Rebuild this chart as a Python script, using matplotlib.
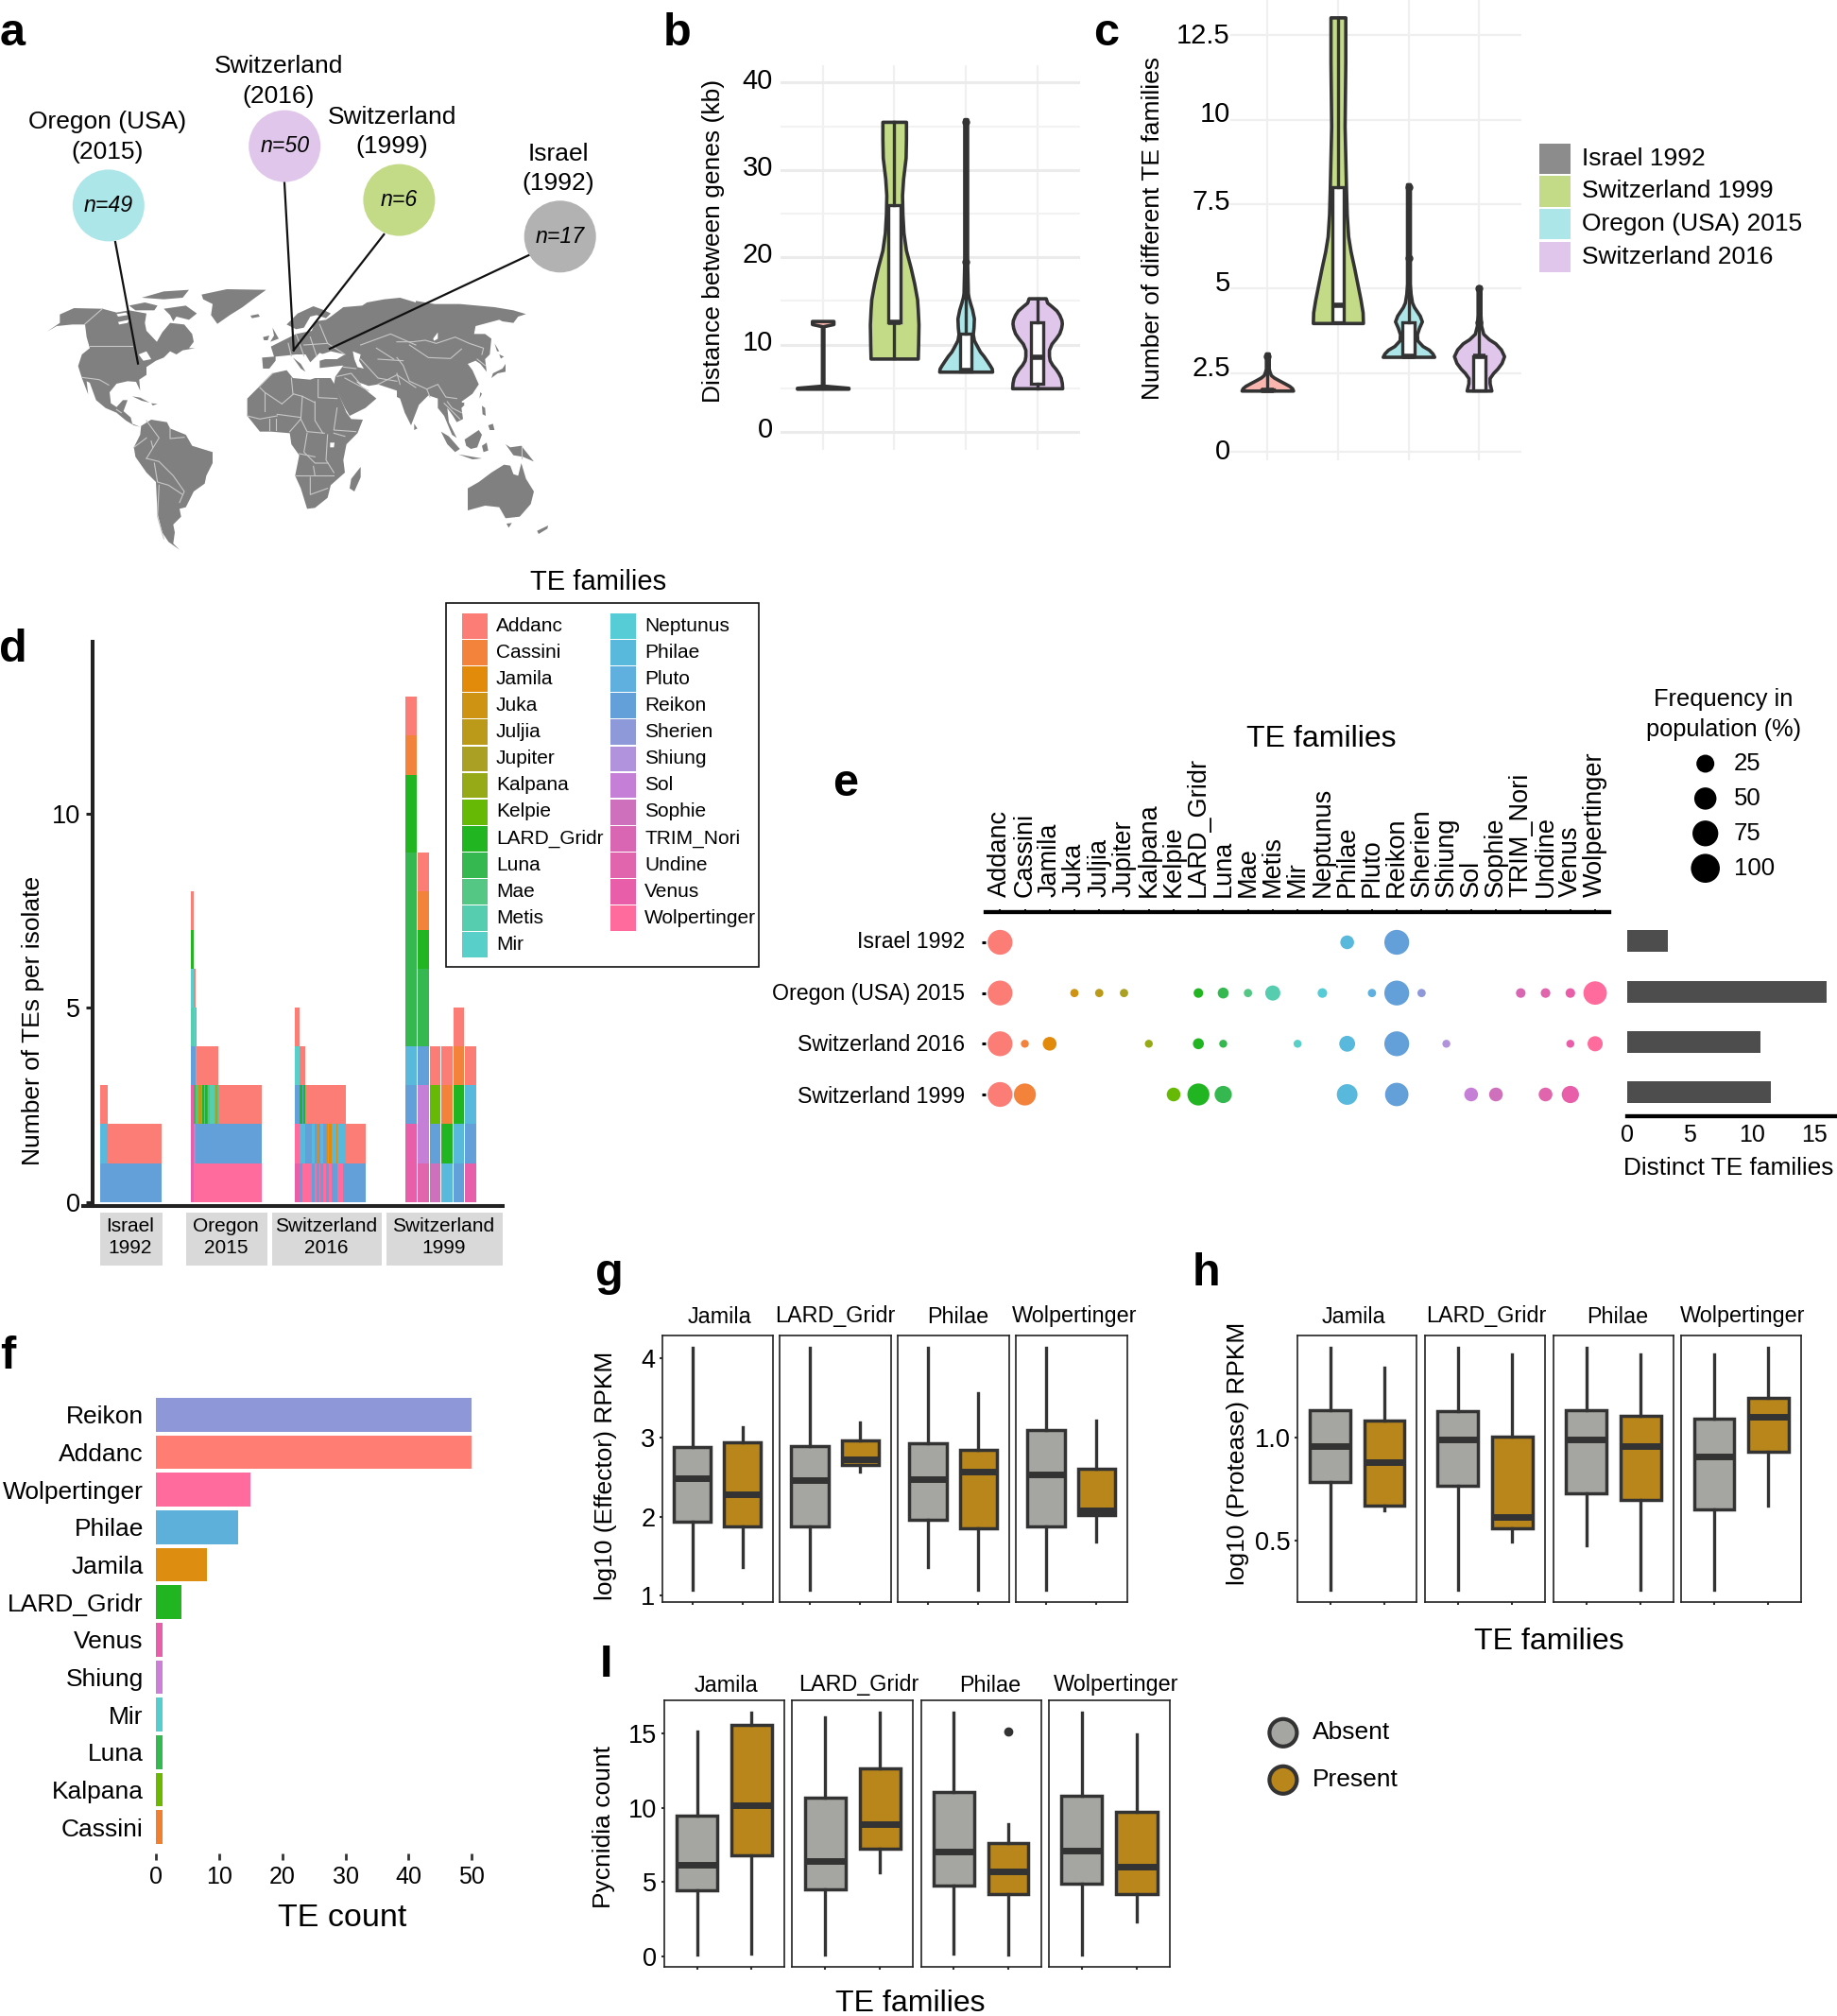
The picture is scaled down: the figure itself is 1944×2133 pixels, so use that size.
# coding=utf-8
import numpy as np
import matplotlib
matplotlib.use('Agg')
import matplotlib.pyplot as plt
from matplotlib.patches import Rectangle, Circle, Polygon
from matplotlib.transforms import ScaledTranslation

plt.rcParams['font.family'] = ['Liberation Sans', 'DejaVu Sans']

W, H = 1944, 2133

# ---- colours ----
families = ['Addanc', 'Cassini', 'Jamila', 'Juka', 'Juljia', 'Jupiter', 'Kalpana', 'Kelpie',
            'LARD_Gridr', 'Luna', 'Mae', 'Metis', 'Mir', 'Neptunus', 'Philae', 'Pluto', 'Reikon',
            'Sherien', 'Shiung', 'Sol', 'Sophie', 'TRIM_Nori', 'Undine', 'Venus', 'Wolpertinger']
family_colors = ['#FB7D75', '#F3823B', '#E28A0A', '#CF9314', '#BC9A19', '#A9A024', '#96AA17', '#66BA06',
                 '#22B522', '#35B84F', '#55C785', '#55CDAE', '#58CFC8', '#55CCD6', '#58B9DC', '#5FB0DE',
                 '#639FD8', '#8E99DA', '#B192DC', '#C67FD6', '#CF70BD', '#D966B3', '#E065AC', '#E85EA8',
                 '#FF6B9C']
fam_col = dict(zip(families, family_colors))
dark = '#333333'
absent_col = '#A5A5A1'
present_col = '#B8861B'

# ---- a: map outlines, one group per crop ----
# west part, origin (40, 300), 3 units per pixel
north_america = [(30,152),(70,125),(70,98),(115,78),(205,80),(250,92),(290,85),(345,95),(340,125),(345,150),
                 (378,185),(395,155),(420,125),(465,130),(490,160),(495,185),(480,205),(500,205),(460,212),
                 (440,225),(420,215),(400,235),(375,245),(345,265),(345,290),(322,305),(325,340),(312,312),
                 (285,310),(250,318),(228,345),(232,380),(250,392),(270,370),(285,370),(272,405),(295,425),
                 (300,445),(325,455),(305,450),(280,435),(250,410),(215,395),(185,370),(165,315),(155,310),
                 (160,352),(140,300),(128,262),(140,225),(165,205),(155,170),(150,130),(110,130),(60,135)]
baffin = [(400,80),(470,70),(505,95),(480,115),(440,105),(430,120),(420,100)]
ellesmere = [(330,45),(400,25),(480,20),(460,45),(400,50)]
victoria = [(290,70),(340,60),(380,70),(370,85),(310,85)]
greenland = [(520,35),(600,18),(725,20),(690,45),(650,75),(610,100),(570,128),(550,100),(555,65),(525,50)]
iceland = [(675,102),(700,97),(705,105),(680,110)]
cuba = [(300,358),(325,362),(355,378),(330,372)]
hispaniola = [(360,380),(380,382),(365,387)]
south_america = [(328,452),(360,432),(410,440),(420,460),(470,480),(490,515),(555,535),(555,570),(535,610),
                 (530,635),(495,660),(470,710),(450,715),(455,740),(430,765),(435,790),(430,825),(450,845),
                 (415,820),(395,790),(380,730),(375,630),(345,600),(310,550),(305,520),(325,480)]
west_land = [north_america, baffin, ellesmere, victoria, greenland, iceland, cuba, hispaniola, south_america]
west_water = [[(250,97),(280,92),(285,100),(255,105)], [(255,122),(290,115),(285,125),(258,130)],
              [(320,225),(345,215),(360,240),(335,245)]]
west_borders = [[(165,197),(300,197)], [(150,128),(205,80)], [(140,298),(195,305),(225,322)], [(250,400),(265,410)],
                [(345,435),(385,490),(345,555)], [(345,490),(305,520)], [(420,460),(420,492),(465,488)],
                [(345,555),(385,565),(430,610),(465,660),(450,695)], [(370,570),(380,630),(415,640),(460,670)],
                [(385,640),(380,740),(400,810)], [(360,500),(365,520)]]

# middle part, origin (250, 300)
africa = [(35,365),(75,325),(115,285),(160,275),(180,300),(235,305),(250,300),(300,300),(315,325),(350,410),
          (365,430),(402,432),(385,475),(350,510),(340,560),(345,600),(300,640),(290,680),(250,712),(225,715),
          (205,650),(187,610),(200,545),(175,510),(170,475),(110,470),(75,470),(35,420)]
madagascar = [(395,582),(395,615),(375,660),(360,650),(365,620)]
uk = [(115,140),(135,175),(108,185),(120,165)]
ireland = [(85,170),(105,165),(100,180),(88,180)]
scandinavia = [(160,130),(170,120),(195,95),(245,72),(280,85),(300,95),(285,110),(255,100),(235,105),(215,140),
               (190,145),(170,135)]
italy = [(180,235),(205,255),(220,280),(205,270)]
eurasia_mid_a = [(85,270),(82,235),(120,232),(110,200),(150,180),(190,160),(240,150),(250,120),(285,115),(300,105),
                 (340,75),(400,70),(415,60),(470,50),(520,45),(570,60)]
eurasia_mid_b = [(510,340),(450,320),(420,325),(380,310),(420,345),(445,365),(410,395),(360,420),(345,395),(310,320),
                 (315,295),(340,260),(265,268),(265,245),(300,235),(265,220),(235,250),(220,225),(190,225),(165,228),
                 (125,232),(125,245),(105,270)]
mid_land = [africa, madagascar, uk, ireland, scandinavia, italy]
mid_water = [[(370,215),(395,225),(390,245),(405,270),(385,265),(375,240)],
             [(270,225),(300,215),(345,225),(320,240),(270,240)],
             [(298,505),(312,505),(310,520),(298,520)]]
mid_borders = [[(75,330),(90,345),(145,382)], [(90,345),(90,405)], [(115,285),(75,325)],
               [(175,300),(180,350),(210,358),(250,378)], [(145,382),(180,352)], [(260,305),(260,362),(320,365)],
               [(250,375),(250,435),(275,475)], [(210,358),(205,430),(170,470)], [(130,415),(205,425)],
               [(35,420),(75,430),(130,420)], [(105,430),(105,465)], [(125,430),(125,465)],
               [(205,430),(225,470),(280,475)], [(225,475),(215,535),(250,570),(290,570)], [(310,475),(345,485)],
               [(320,395),(310,465),(380,470)], [(290,480),(285,560),(310,600)], [(190,610),(310,610)],
               [(235,615),(235,670),(290,650)], [(245,580),(250,610)], [(200,540),(250,550)],
               [(165,190),(175,230)], [(190,160),(215,230)], [(235,170),(255,230)], [(215,195),(290,190)],
               [(265,130),(290,190),(345,225)], [(320,295),(365,285),(395,320)], [(340,265),(380,270)],
               [(345,300),(420,340)], [(395,240),(450,300),(510,310)], [(450,240),(530,245)],
               [(450,320),(510,290),(570,330)], [(395,195),(490,160),(570,195)], [(445,205),(500,240)]]

# east part, origin (420, 300)
eurasia_east = [(60,55),(120,65),(200,65),(310,75),(370,85),(410,97),(385,105),(370,125),(335,120),(325,115),(250,135),
                (245,160),(280,160),(300,175),(295,225),(280,240),(285,280),(265,255),(250,245),(225,255),(240,275),
                (260,320),(240,350),(205,375),(215,385),(205,395),(210,430),(190,440),(178,420),(160,395),(165,440),
                (190,490),(175,480),(150,420),(130,395),(130,365),(100,355),(70,385),(45,450),(25,410),(10,365),(0,360)]
japan = [(345,255),(345,280),(320,285),(300,300),(305,285),(335,270)]
hokkaido = [(325,225),(340,232),(330,238)]
sakhalin = [(310,190),(325,215),(318,215)]
taiwan = [(265,345),(270,350),(262,365)]
hainan = [(205,378),(215,378),(210,386)]
sri_lanka = [(55,445),(65,460),(55,465)]
sumatra = [(140,470),(165,485),(200,525),(185,535),(160,510)]
borneo = [(215,495),(260,465),(270,480),(255,520),(235,525),(220,515)]
java = [(195,542),(240,550),(270,555),(240,558)]
celebes = [(270,515),(285,505),(290,530),(275,535)]
guinea = [(360,520),(395,515),(435,565),(400,550),(370,545),(345,510)]
luzon = [(270,388),(280,395),(282,420),(272,415)]
mindanao = [(290,450),(305,445),(310,465),(295,465)]
australia = [(225,650),(260,630),(300,600),(340,575),(360,578),(370,605),(385,610),(395,570),(410,620),(435,660),
             (425,700),(390,740),(345,745),(325,710),(280,705),(225,720)]
tasmania = [(348,762),(365,760),(355,775)]
new_zealand = [(445,785),(480,768),(478,778),(450,795)]
east_land = [japan, hokkaido, sakhalin, taiwan, hainan, sri_lanka, sumatra, borneo, java, celebes, guinea, luzon,
             mindanao, australia, tasmania, new_zealand]
east_water = [[(115,175),(130,155),(130,175),(118,182)]]
east_borders = [[(0,185),(50,185),(90,180),(125,190),(185,170),(230,190),(275,205),(270,225)],
                [(40,195),(100,235),(170,238),(205,208)],
                [(0,235),(20,260),(40,310),(95,335),(130,320),(155,360),(190,365)],
                [(0,285),(10,320)], [(95,335),(105,360)], [(150,380),(200,430)], [(160,375),(175,395),(205,410)],
                [(255,240),(280,260)], [(395,515),(395,555)]]

bubble_x = [114.8, 301.2, 422.4, 592.7]
bubble_y = [217.4, 154.6, 211.6, 250.3]
bubble_col = ['#ADE6E8', '#E0C6EA', '#C3DA87', '#B2B2B2']
bubble_n = ['n=49', 'n=50', 'n=6', 'n=17']
bubble_l1 = ['Oregon (USA)', 'Switzerland', 'Switzerland', 'Israel']
bubble_l2 = ['(2015)', '(2016)', '(1999)', '(1992)']
bubble_lx = [113.9, 294.8, 415, 591]
bubble_ly1 = [129, 70, 124, 163]
bubble_ly2 = [161, 102, 155, 194]
pointer_from = [(122,256), (301,193), (406.3,248), (560,269.8)]
pointer_to = [(146,384.6), (310.8,370.5), (310.8,370.5), (349,369)]

# ---- b / c: violins, y value and half width ----
b_israel_y = [4.95, 5.05, 5.3, 12.1, 12.35, 12.7]
b_israel_w = [.36, .36, .01, .01, .15, .15]
b_sw99_y = [8.4, 10, 12.3, 14, 15.2, 17, 18.8, 20.8, 22.8, 25, 27.1, 29, 31.4, 33.5, 35.5]
b_sw99_w = [.33, .335, .34, .33, .32, .28, .23, .165, .13, .115, .11, .125, .16, .165, .165]
b_oregon_y = [6.9, 7.25, 7.6, 8.1, 8.7, 9.2, 9.8, 10.5, 11.2, 12, 13, 14, 14.8, 15.4, 15.9, 19.5, 24.2, 35.8]
b_oregon_w = [.37, .365, .34, .30, .25, .2, .16, .115, .1, .11, .115, .09, .06, .04, .03, .02, .02, .02]
b_sw16_y = [5, 5.6, 6.2, 6.7, 7.2, 7.7, 8.2, 8.7, 9.4, 10.1, 10.7, 11.3, 11.9, 12.4, 12.8, 13.4, 13.9, 14.4, 14.8, 15.3]
b_sw16_w = [.35, .345, .33, .30, .26, .21, .175, .165, .165, .2, .26, .31, .335, .345, .34, .31, .27, .2, .14, .12]
# whisker low, q1, median, q3, whisker high
b_sw99_box = [8.4, 12.5, 12.5, 26, 35.5]
b_oregon_box = [6.9, 6.9, 7.0, 11.3, 19.5]
b_sw16_box = [5, 5.5, 8.5, 12.6, 15.3]
b_oregon_out = [19.5, 35.5]

c_israel_y = [1.98, 2.05, 2.12, 2.2, 2.3, 2.37, 2.44, 2.55, 2.63, 3.08]
c_israel_w = [.365, .35, .31, .24, .15, .09, .05, .03, .02, .02]
c_sw99_y = [3.98, 4.3, 4.68, 5.1, 5.62, 6.1, 6.55, 7.2, 7.95, 9.81, 11.68, 13.03]
c_sw99_w = [.355, .35, .32, .28, .23, .18, .145, .125, .115, .095, .105, .105]
c_oregon_y = [2.98, 3.08, 3.19, 3.3, 3.47, 3.65, 3.84, 4.03, 4.2, 4.31, 4.45, 4.59, 4.85, 5.15, 8.09]
c_oregon_w = [.365, .34, .29, .2, .125, .12, .15, .19, .16, .125, .08, .05, .03, .02, .02]
c_sw16_y = [1.98, 2.2, 2.35, 2.5, 2.63, 2.8, 3, 3.2, 3.38, 3.5, 3.66, 3.9, 4.22, 5.06]
c_sw16_w = [.175, .15, .15, .2, .26, .32, .355, .31, .23, .14, .06, .03, .02, .02]
c_israel_box = [2, 2, 2, 2.02, 3]
c_sw99_box = [4, 4, 4.5, 8, 13]
c_oregon_box = [3, 3, 3, 4, 5.9]
c_sw16_box = [2, 2, 3, 3, 4]
c_israel_out = [3]
c_oregon_out = [5.9, 8]
c_sw16_out = [4, 5]

violin_col = ['#F9B5AE', '#C3DA87', '#ADE6E8', '#E0C6EA']
pop_legend = ['Israel 1992', 'Switzerland 1999', 'Oregon (USA) 2015', 'Switzerland 2016']
pop_legend_col = ['#8C8C8C', '#C3DA87', '#ADE6E8', '#E0C6EA']

# ---- d: isolates as (how many, families bottom to top) ----
W_, R_, A_, P_, J_ = 'Wolpertinger', 'Reikon', 'Addanc', 'Philae', 'Jamila'
d_israel = [(2, [R_, P_, A_]), (15, [R_, A_])]
d_oregon = [(2, ['Venus', 'Venus', 'Venus', R_, 'Metis', 'Mir', 'LARD_Gridr', A_]),
            (1, [W_, 'Sherien', 'Luna', R_, 'Mir', A_]),
            (1, [W_, R_, 'Mae', 'Mir', A_]),
            (1, [W_, R_, 'Mae', A_]), (1, [W_, R_, 'Juka', A_]), (1, [W_, R_, 'Juljia', A_]),
            (1, [W_, R_, 'Mae', A_]), (1, [W_, R_, 'LARD_Gridr', A_]), (1, [W_, R_, 'Mae', A_]),
            (1, [W_, R_, 'LARD_Gridr', A_]), (1, [W_, R_, 'Luna', A_]), (1, [W_, R_, 'Mae', A_]),
            (3, [W_, R_, 'Metis', A_]), (1, [W_, R_, 'Mae', A_]), (1, [W_, R_, 'Jupiter', A_]),
            (1, [W_, R_, 'Mae', A_]),
            (30, [W_, R_, A_])]
d_sw16 = [(3, ['Venus', W_, R_, 'Mir', A_]),
          (2, [R_, P_, 'LARD_Gridr', A_]), (1, [W_, P_, R_, A_]), (1, [W_, P_, 'LARD_Gridr', A_]),
          (5, [W_, R_, A_]), (2, [R_, P_, A_]), (1, [W_, R_, A_]), (2, [R_, J_, A_]), (1, [W_, R_, A_]),
          (2, [R_, P_, A_]), (2, [W_, R_, A_]), (1, [R_, J_, A_]), (1, [R_, P_, A_]), (2, [W_, J_, A_]),
          (3, [R_, P_, A_]), (1, [R_, J_, A_]), (4, [W_, P_, A_]), (2, [R_, P_, A_]),
          (14, [R_, A_])]
d_sw99 = [(1, ['Venus', 'Venus', R_, P_] + ['Luna'] * 5 + ['LARD_Gridr'] * 2 + ['Cassini', A_]),
          (1, ['Undine', 'Sol', 'Sol', R_, 'Luna', 'Luna', 'LARD_Gridr', 'Cassini', A_]),
          (1, ['Sophie', R_, 'Kelpie', A_]),
          (1, [P_, 'LARD_Gridr', 'Cassini', A_]),
          (1, [R_, P_, 'LARD_Gridr', 'Cassini', A_]),
          (1, ['Venus', R_, P_, A_])]
d_facets = [d_israel, d_oregon, d_sw16, d_sw99]
d_start = [106, 202, 312, 429.3]
d_end = [171.4, 277.3, 387.3, 505]
d_strip_x0 = [106, 196.6, 288, 408.5]
d_strip_x1 = [171.6, 283, 404, 532]
d_strip_txt = ['Israel\n1992', 'Oregon\n2015', 'Switzerland\n2016', 'Switzerland\n1999']

# ---- e: frequency in population (%) ----
e_rows = ['Israel 1992', 'Oregon (USA) 2015', 'Switzerland 2016', 'Switzerland 1999']
e_israel = {'Addanc': 98, 'Philae': 23, 'Reikon': 98}
e_oregon = {'Addanc': 98, 'Juka': 2, 'Juljia': 2, 'Jupiter': 2, 'LARD_Gridr': 6, 'Luna': 11, 'Mae': 2,
            'Metis': 30, 'Neptunus': 6, 'Pluto': 2, 'Reikon': 98, 'Sherien': 2, 'TRIM_Nori': 6, 'Undine': 6,
            'Venus': 6, 'Wolpertinger': 86}
e_sw16 = {'Addanc': 98, 'Cassini': 1, 'Jamila': 23, 'Kalpana': 1, 'LARD_Gridr': 11, 'Luna': 1, 'Mir': 1,
          'Philae': 34, 'Reikon': 98, 'Shiung': 1, 'Venus': 1, 'Wolpertinger': 30}
e_sw99 = {'Addanc': 98, 'Cassini': 75, 'Kelpie': 23, 'LARD_Gridr': 75, 'Luna': 42, 'Philae': 65, 'Reikon': 86,
          'Sol': 23, 'Sophie': 23, 'Undine': 23, 'Venus': 42}
e_distinct = [3.3, 16, 10.7, 11.5]
size_levels = [25, 50, 75, 100]

# ---- f ----
f_names = ['Reikon', 'Addanc', 'Wolpertinger', 'Philae', 'Jamila', 'LARD_Gridr', 'Venus', 'Shiung', 'Mir',
           'Luna', 'Kalpana', 'Cassini']
f_counts = [50, 50, 15, 13, 8, 4, 1, 1, 1, 1, 1, 1]
f_colors = ['#8E97D8', '#FF7D73', '#FF6B9C', '#5CB0DA', '#DD8D10', '#22B522', '#E85EA8', '#CC7FD6', '#55CDCD',
            '#35B84F', '#6CB800', '#F08030']

# ---- g / h / i: [absent, present], each whisker low, q1, median, q3, whisker high ----
facet_names = ['Jamila', 'LARD_Gridr', 'Philae', 'Wolpertinger']
g_jamila = [[1.07, 1.94, 2.49, 2.88, 4.14], [1.36, 1.88, 2.28, 2.94, 3.13]]
g_lard = [[1.07, 1.88, 2.46, 2.89, 4.14], [2.57, 2.65, 2.73, 2.96, 3.19]]
g_philae = [[1.36, 1.96, 2.47, 2.93, 4.14], [1.07, 1.85, 2.57, 2.84, 3.56]]
g_wolp = [[1.07, 1.88, 2.53, 3.09, 4.14], [1.68, 2.02, 2.08, 2.61, 3.21]]
h_jamila = [[.262, .784, .959, 1.131, 1.436], [.646, .669, .883, 1.081, 1.337]]
h_lard = [[.262, .765, .989, 1.128, 1.436], [.498, .559, .616, 1.005, 1.401]]
h_philae = [[.479, .730, .989, 1.131, 1.436], [.262, .700, .959, 1.104, 1.401]]
h_wolp = [[.262, .654, .909, 1.093, 1.401], [.669, .931, 1.101, 1.192, 1.436]]
i_jamila = [[.1, 4.45, 6.14, 9.49, 15.1], [.2, 6.82, 10.15, 15.57, 16.38]]
i_lard = [[.1, 4.49, 6.4, 10.7, 16.1], [5.68, 7.25, 8.9, 12.67, 16.38]]
i_philae = [[.2, 4.77, 7.03, 11.08, 16.38], [.1, 4.19, 5.7, 7.63, 8.9]]
i_wolp = [[.1, 4.87, 7.1, 10.8, 16.38], [2.33, 4.19, 6.02, 9.7, 14.9]]
i_philae_out = [15.1]


def px_axes(x0, y0, x1, y1):
    # axes given in pixels of the figure, y going down
    return fig.add_axes([x0 / W, 1 - y1 / H, (x1 - x0) / W, (y1 - y0) / H])


def stat(v, fliers=()):
    return dict(whislo=v[0], q1=v[1], med=v[2], q3=v[3], whishi=v[4], fliers=list(fliers))


def shift_labels(ax, offsets):
    # tick labels sit a little above their gridline in the picture
    for lab, off in zip(ax.get_yticklabels(), offsets):
        lab.set_transform(lab.get_transform() + ScaledTranslation(0, off / 72, fig.dpi_scale_trans))


def crop_pts(poly, ox, oy):
    return [(ox + x / 3, oy + y / 3) for x, y in poly]


def violin(ax, pos, y, w, col, box=None, out=()):
    y = np.array(y)
    w = np.array(w)
    ax.fill_betweenx(y, pos - w, pos + w, facecolor=col, edgecolor=dark, linewidth=2.6, joinstyle='round', zorder=2)
    if box is not None:
        ax.bxp([stat(box, out)], positions=[pos], widths=.17, patch_artist=True, showcaps=False,
               manage_ticks=False, zorder=3,
               boxprops=dict(facecolor='white', edgecolor=dark, linewidth=2.4),
               medianprops=dict(color=dark, linewidth=4, solid_capstyle='butt'),
               whiskerprops=dict(color=dark, linewidth=2.4),
               flierprops=dict(marker='o', markerfacecolor=dark, markeredgecolor=dark, markersize=5))


def facet_boxes(ax, boxes, fliers=()):
    for k, (v, col) in enumerate(zip(boxes, [absent_col, present_col])):
        ax.bxp([stat(v, fliers if k == 1 else ())], positions=[k + 1], widths=.74, patch_artist=True,
               showcaps=False, manage_ticks=False,
               boxprops=dict(facecolor=col, edgecolor=dark, linewidth=2.5),
               medianprops=dict(color=dark, linewidth=5, solid_capstyle='butt'),
               whiskerprops=dict(color=dark, linewidth=2.4),
               flierprops=dict(marker='o', markerfacecolor=dark, markeredgecolor=dark, markersize=6))
    ax.set_xlim(.4, 2.6)
    ax.set_xticks([1, 2])
    ax.set_xticklabels([])
    ax.tick_params(axis='x', length=2.5, width=1.5, color=dark)
    for s in ax.spines.values():
        s.set_linewidth(1.2)
        s.set_color('#222222')


fig = plt.figure(figsize=(W / 100, H / 100), dpi=100, facecolor='white')

# overlay in figure pixels for the free text and hand placed legends
ov = fig.add_axes([0, 0, 1, 1], zorder=10)
ov.set_xlim(0, W)
ov.set_ylim(H, 0)
ov.axis('off')
ov.patch.set_alpha(0)

letters = ['a', 'b', 'c', 'd', 'e', 'f', 'g', 'h', 'I']
letter_x = [13, 717, 1171, 14, 895, 8, 645, 1276, 641]
letter_y = [35, 35, 35, 688, 829, 1435, 1347, 1347, 1762]
for t, x, y in zip(letters, letter_x, letter_y):
    ov.text(x, y, t, fontsize=35, fontweight='bold', ha='center', va='center')

# ---- a ----
ax = px_axes(0, 0, 720, 600)
ax.set_xlim(0, 720)
ax.set_ylim(600, 0)
ax.axis('off')
eurasia = (crop_pts(eurasia_mid_a, 250, 300) + crop_pts(eurasia_east, 420, 300) + crop_pts(eurasia_mid_b, 250, 300))
ax.add_patch(Polygon(eurasia, closed=True, facecolor='#808080', edgecolor='none', zorder=1))
for group, water, lines, ox in [(west_land, west_water, west_borders, 40),
                                (mid_land, mid_water, mid_borders, 250),
                                (east_land, east_water, east_borders, 420)]:
    for poly in group:
        ax.add_patch(Polygon(crop_pts(poly, ox, 300), closed=True, facecolor='#808080', edgecolor='none', zorder=1))
    for poly in water:
        ax.add_patch(Polygon(crop_pts(poly, ox, 300), closed=True, facecolor='white', edgecolor='none', zorder=2))
    for line in lines:
        ax.plot(*zip(*crop_pts(line, ox, 300)), color='#C8C8C8', linewidth=.8, zorder=2)
for p, q in zip(pointer_from, pointer_to):
    ax.plot([p[0], q[0]], [p[1], q[1]], color='#111111', linewidth=1.6, zorder=3)
for k in range(4):
    ov.add_patch(Circle((bubble_x[k], bubble_y[k]), 38, facecolor=bubble_col[k], edgecolor='none'))
    ov.text(bubble_x[k], bubble_y[k], bubble_n[k], fontsize=16.7, fontstyle='italic', ha='center', va='center')
    ov.text(bubble_lx[k], bubble_ly1[k], bubble_l1[k], fontsize=19, ha='center', va='center')
    ov.text(bubble_lx[k], bubble_ly2[k], bubble_l2[k], fontsize=19, ha='center', va='center')

# ---- b ----
ax = px_axes(826, 69, 1143, 475.7)
ax.set_xlim(.41, 4.6)
ax.set_ylim(-2.02, 41.98)
ax.set_xticks([1, 2, 3, 4])
ax.set_xticklabels([])
ax.set_yticks([0, 10, 20, 30, 40])
ax.set_yticks([5, 15, 25, 35], minor=True)
ax.tick_params(which='both', length=0)
ax.tick_params(axis='y', labelsize=21, pad=5.8)
ax.grid(True, which='major', axis='y', color='#EBEBEB', linewidth=2.2)
ax.grid(True, which='minor', axis='y', color='#F2F2F2', linewidth=1.5)
ax.grid(True, which='major', axis='x', color='#F0F0F0', linewidth=1.6)
ax.set_axisbelow(True)
for s in ax.spines.values():
    s.set_visible(False)
violin(ax, 1, b_israel_y, b_israel_w, violin_col[0])
violin(ax, 2, b_sw99_y, b_sw99_w, violin_col[1], b_sw99_box)
violin(ax, 3, b_oregon_y, b_oregon_w, violin_col[2], b_oregon_box, b_oregon_out)
violin(ax, 4, b_sw16_y, b_sw16_w, violin_col[3], b_sw16_box)
shift_labels(ax, [3.4] * 5)
ov.text(755, 255, 'Distance between genes (kb)', fontsize=19, rotation=90, ha='center', va='center')

# ---- c ----
ax = px_axes(1301.6, 0, 1610, 486.7)
ax.set_xlim(.47, 4.6)
ax.set_ylim(-.075, 13.545)
ax.set_xticks([1, 2, 3, 4])
ax.set_xticklabels([])
ax.set_yticks([.18, 2.5, 5, 7.5, 10, 12.5])
ax.set_yticklabels(['0', '2.5', '5', '7.5', '10', '12.5'])
ax.tick_params(length=0)
ax.tick_params(axis='y', labelsize=21, pad=0)
ax.grid(True, axis='y', color='#EFEFEF', linewidth=1.6)
ax.grid(True, axis='x', color='#F0F0F0', linewidth=1.6)
ax.set_axisbelow(True)
for s in ax.spines.values():
    s.set_visible(False)
violin(ax, 1, c_israel_y, c_israel_w, violin_col[0], c_israel_box, c_israel_out)
violin(ax, 2, c_sw99_y, c_sw99_w, violin_col[1], c_sw99_box)
violin(ax, 3, c_oregon_y, c_oregon_w, violin_col[2], c_oregon_box, c_oregon_out)
violin(ax, 4, c_sw16_y, c_sw16_w, violin_col[3], c_sw16_box, c_sw16_out)
shift_labels(ax, [1.9, 5.8, 6, 3.8, 6, 1.7])
ov.text(1219.6, 241.7, 'Number of different TE families', fontsize=19, rotation=90, ha='center', va='center')

for k in range(4):
    ov.add_patch(Rectangle((1629, 151.7 + k * 34.6), 33, 32.3, facecolor=pop_legend_col[k], edgecolor='none'))
    ov.text(1674, 167.8 + k * 34.6, pop_legend[k], fontsize=19, ha='left', va='center')

# ---- d ----
ax = px_axes(88, 679, 532, 1276)
ax.set_xlim(88, 532)
ax.set_ylim(-.107, 14.42)
for facet, x0, x1 in zip(d_facets, d_start, d_end):
    n = sum(run[0] for run in facet)
    unit = (x1 - x0) / n
    gap = .9 if unit > 5 else 0
    x = x0
    for count, stack in facet:
        for level, fam in enumerate(stack):
            ax.bar(x, 1, width=count * unit - gap, bottom=level, align='edge', color=fam_col[fam], linewidth=0)
        x += count * unit
ax.set_xticks([])
ax.set_yticks([0, 5, 10])
ax.tick_params(axis='y', labelsize=19.5, length=5, width=2.2, pad=4.5, color='#222222')
ax.spines['top'].set_visible(False)
ax.spines['right'].set_visible(False)
ax.spines['left'].set_position(('data', 98))
ax.spines['left'].set_linewidth(2.9)
ax.spines['left'].set_color('#222222')
ax.spines['bottom'].set_linewidth(2.9)
ax.spines['bottom'].set_color('#222222')
ov.text(35, 1080, 'Number of TEs per isolate', fontsize=19, rotation=90, ha='center', va='center')
for x0, x1, t in zip(d_strip_x0, d_strip_x1, d_strip_txt):
    ov.add_patch(Rectangle((x0, 1283), x1 - x0, 55.5, facecolor='#D9D9D9', edgecolor='none'))
    ov.text((x0 + x1) / 2 - 1, 1309, t, fontsize=15, ha='center', va='center', linespacing=1.3)

# family legend of d
ov.text(632.6, 616, 'TE families', fontsize=21, ha='center', va='center')
ov.add_patch(Rectangle((472, 638), 331, 384.5, facecolor='none', edgecolor='#111111', linewidth=1.2))
for k, fam in enumerate(families):
    col, row = (0, k) if k < 13 else (1, k - 13)
    ov.add_patch(Rectangle((489 + col * 157, 649 + row * 28.1), 26.5, 26.8, facecolor=fam_col[fam], edgecolor='none'))
    ov.text(525 + col * 157, 662.3 + row * 28.1, fam, fontsize=15, ha='left', va='center')

# ---- e dots ----
ax = px_axes(1043, 965, 1703, 1180)
ax.set_xlim(-.583, 24.57)
ax.set_ylim(3.41, -.596)
for r, row in enumerate([e_israel, e_oregon, e_sw16, e_sw99]):
    xs = [families.index(k) for k in row]
    freq = np.array(list(row.values()), dtype=float)
    cols = [fam_col[k] for k in row]
    ax.scatter(xs, [r] * len(xs), s=(.72 / 1.3706) ** 2 * (121 + 12 * freq), c=cols, linewidths=0, clip_on=False)
ax.xaxis.tick_top()
ax.set_xticks(range(len(families)))
ax.set_xticklabels(families, rotation=90, fontsize=19.5)
ax.set_yticks(range(4))
ax.set_yticklabels(e_rows, fontsize=16.7)
ax.tick_params(axis='x', length=2.5, width=1.4, pad=9, color='black')
ax.tick_params(axis='y', length=2.9, width=2.2, pad=12.6, color='black')
for k in ['left', 'right', 'bottom']:
    ax.spines[k].set_visible(False)
ax.spines['top'].set_linewidth(3.1)
shift_labels(ax, [2.2, 1.4, .7, 0])
ov.text(1398, 782, 'TE families', fontsize=23, ha='center', va='center')

# ---- e bars ----
ax = px_axes(1721.5, 965, 1944, 1180.7)
ax.set_xlim(0, 16.82)
ax.set_ylim(3.465, -.58)
ax.barh(range(4), e_distinct, height=.43, color='#4D4D4D', linewidth=0)
ax.set_xticks([0, 5, 10, 15])
ax.set_yticks([])
ax.tick_params(axis='x', labelsize=18, length=0, pad=6)
for k in ['left', 'right', 'top']:
    ax.spines[k].set_visible(False)
ax.spines['bottom'].set_linewidth(3.1)
ov.text(1829, 1236, 'Distinct TE families', fontsize=18.9, ha='center', va='center')

# size legend of e
ov.text(1823.6, 739.6, 'Frequency in', fontsize=18.3, ha='center', va='center')
ov.text(1823.6, 771.8, 'population (%)', fontsize=18.3, ha='center', va='center')
for k, lev in enumerate(size_levels):
    y = 808 + k * 36.9
    ov.add_patch(Circle((1804.7, y), np.sqrt(169 + 7.67 * lev) / 2, facecolor='black', edgecolor='none'))
    ov.text(1834.6, y, str(lev), fontsize=18.5, ha='left', va='center')

# ---- f ----
ax = px_axes(165.4, 1470, 520, 1961)
ax.set_xlim(0, 53.16)
ax.set_ylim(11.70, -.68)
ax.barh(range(len(f_names)), f_counts, height=.9, color=f_colors, linewidth=0)
ax.set_yticks(range(len(f_names)))
ax.set_yticklabels(f_names, fontsize=19)
ax.set_xticks([0, 10, 20, 30, 40, 50])
ax.tick_params(axis='y', length=0, pad=9.8)
ax.tick_params(axis='x', labelsize=18, length=5, width=2, pad=4.5, color=dark)
for s in ax.spines.values():
    s.set_visible(False)
ov.text(362.5, 2029, 'TE count', fontsize=24.5, ha='center', va='center')

# ---- g ----
g_x0 = [701, 825, 950, 1075]
g_x1 = [817.6, 942.5, 1067.5, 1192.5]
g_strip = [761.9, 884, 1013.5, 1136.8]
for k, boxes in enumerate([g_jamila, g_lard, g_philae, g_wolp]):
    ax = px_axes(g_x0[k], 1412.7, g_x1[k], 1695)
    facet_boxes(ax, boxes)
    ax.set_ylim(.92, 4.295)
    ax.set_yticks([1, 2, 3, 4])
    if k == 0:
        ax.tick_params(axis='y', labelsize=19.5, length=2.5, width=1.5, pad=3, color=dark)
    else:
        ax.tick_params(axis='y', left=False, labelleft=False)
    ov.text(g_strip[k], 1393, facet_names[k], fontsize=16.8, ha='center', va='center')
ov.text(641, 1561.7, 'log10 (Effector) RPKM', fontsize=19, rotation=90, ha='center', va='center')

# ---- h ----
h_x0 = [1373.2, 1508.2, 1644.2, 1779.3]
h_x1 = [1499, 1635, 1770.9, 1906]
h_strip = [1433, 1572.5, 1711.8, 1844.4]
for k, boxes in enumerate([h_jamila, h_lard, h_philae, h_wolp]):
    ax = px_axes(h_x0[k], 1412.7, h_x1[k], 1695)
    facet_boxes(ax, boxes)
    ax.set_ylim(.204, 1.495)
    ax.set_yticks([.5, 1])
    ax.set_yticklabels(['0.5', '1.0'])
    if k == 0:
        ax.tick_params(axis='y', labelsize=19.5, length=2.5, width=1.5, pad=3, color=dark)
    else:
        ax.tick_params(axis='y', left=False, labelleft=False)
    ov.text(h_strip[k], 1393, facet_names[k], fontsize=16.8, ha='center', va='center')
ov.text(1310, 1538, 'log10 (Protease) RPKM', fontsize=19, rotation=90, ha='center', va='center')
ov.text(1639, 1737, 'TE families', fontsize=23, ha='center', va='center')

# ---- i ----
i_x0 = [702.9, 838.1, 974.6, 1109.8]
i_x1 = [829.8, 966.3, 1101.5, 1238]
i_strip = [768.6, 908.9, 1048, 1181]
for k, boxes in enumerate([i_jamila, i_lard, i_philae, i_wolp]):
    ax = px_axes(i_x0[k], 1799.3, i_x1[k], 2080.7)
    facet_boxes(ax, boxes, i_philae_out if k == 2 else ())
    ax.set_ylim(-.68, 17.2)
    ax.set_yticks([0, 5, 10, 15])
    if k == 0:
        ax.tick_params(axis='y', labelsize=19.5, length=2.5, width=1.5, pad=3, color=dark)
    else:
        ax.tick_params(axis='y', left=False, labelleft=False)
    ov.text(i_strip[k], 1783, facet_names[k], fontsize=16.8, ha='center', va='center')
ov.text(639, 1933, 'Pycnidia count', fontsize=19, rotation=90, ha='center', va='center')
ov.text(963, 2120, 'TE families', fontsize=23, ha='center', va='center')

# absent / present legend
for y, col, t in zip([1833.3, 1883.3], [absent_col, present_col], ['Absent', 'Present']):
    ov.add_patch(Circle((1357.9, y), 14.5, facecolor=col, edgecolor=dark, linewidth=3))
    ov.text(1388.5, y, t, fontsize=19, ha='left', va='center')

fig.savefig('out.png', dpi=100)
